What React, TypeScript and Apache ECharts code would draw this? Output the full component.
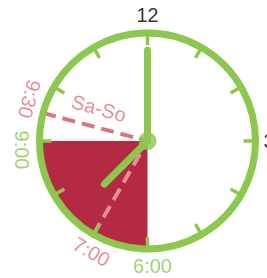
import React, { useEffect, useRef } from 'react';
import * as echarts from 'echarts';

// ---- data ----
const axisLabelHours = [0, 3];
const axisLabelTexts = ['12', '3'];
const faceLabelHours = [6, 9];
const faceLabelTexts = ['6:00', '9:00'];
const shadedRange = [6, 9];
const markerHours = [9.5, 7];
const markerTexts = ['9:30', '7:00'];
const periodText = 'Sa-So';
const minuteHandHour = 0;
const hourHandHour = 7.5;

// ---- styles ----
const GREEN = '#8bc84d';
const PINK = '#e0727f';
const PINK_ON_RED = '#e68d9a';
const RED = '#b42a43';
const DARK = '#333333';
const FONT = 'Liberation Sans, Arial, Helvetica, sans-serif';

export default function App() {
  const ref = useRef<HTMLDivElement>(null);
  useEffect(() => {
    const chart = echarts.init(ref.current!, null, { renderer: 'svg' });
    const tangent = (h: number) => 180 - h * 30;
    const labelItems = [
      { value: [1.153, faceLabelHours[0]], name: faceLabelTexts[0], label: { color: GREEN, rotate: tangent(faceLabelHours[0]), offset: [5, 0] } },
      { value: [1.162, faceLabelHours[1]], name: faceLabelTexts[1], label: { color: GREEN, rotate: tangent(faceLabelHours[1]), offset: [9, 0] } },
      { value: [1.156, markerHours[0]], name: markerTexts[0], label: { color: PINK, rotate: tangent(markerHours[0]), offset: [-10, 0] } },
      { value: [1.148, markerHours[1]], name: markerTexts[1], label: { color: PINK, rotate: tangent(markerHours[1]), offset: [7, 0] } },
      { value: [0.513, markerHours[0]], name: periodText, label: { color: PINK, rotate: tangent(markerHours[0]) + 90, offset: [0, -19] } },
    ];
    const markerColors = [PINK, PINK_ON_RED];
    const markerSeries = markerHours.map((h, i) => ({
      type: 'line',
      coordinateSystem: 'polar',
      data: [[1, h], [0, h]],
      symbol: 'none',
      clip: false,
      z: 3,
      lineStyle: { color: markerColors[i], width: 4, type: [13, 7] },
    }));
    const handSeries = [
      { hour: minuteHandHour, len: 0.84 },
      { hour: hourHandHour, len: 0.565 },
    ].map((hd) => ({
      type: 'line',
      coordinateSystem: 'polar',
      data: [[0, hd.hour], [hd.len, hd.hour]],
      symbol: 'none',
      clip: false,
      z: 4,
      lineStyle: { color: GREEN, width: 7, cap: 'round' },
    }));
    chart.setOption({
      animation: false,
      textStyle: { fontFamily: FONT },
      polar: { center: [147.5, 141], radius: 108 },
      angleAxis: {
        type: 'value',
        min: 0,
        max: 12,
        interval: 1,
        startAngle: 90,
        clockwise: true,
        z: 10,
        axisLine: { show: true, lineStyle: { color: GREEN, width: 7 } },
        axisTick: { show: true, inside: true, length: 12, lineStyle: { color: GREEN, width: 3.5 } },
        splitLine: { show: false },
        splitArea: { show: false },
        axisLabel: {
          show: true,
          margin: 8,
          color: DARK,
          fontSize: 20,
          fontFamily: FONT,
          formatter: (v: number) => {
            const i = axisLabelHours.indexOf(v);
            return i >= 0 ? axisLabelTexts[i] : '';
          },
        },
      },
      radiusAxis: { type: 'value', min: 0, max: 1, show: false },
      series: [
        {
          type: 'custom',
          coordinateSystem: 'polar',
          z: 1,
          data: [[shadedRange[0], shadedRange[1]]],
          renderItem: (params: any, api: any) => {
            const cs = params.coordSys;
            const toRad = (h: number) => (h / 12) * 2 * Math.PI - Math.PI / 2;
            return {
              type: 'sector',
              shape: {
                cx: cs.cx, cy: cs.cy, r: cs.r, r0: 0,
                startAngle: toRad(api.value(0)), endAngle: toRad(api.value(1)), clockwise: true,
              },
              style: { fill: RED },
            };
          },
        },
        ...markerSeries,
        ...handSeries,
        {
          type: 'scatter',
          coordinateSystem: 'polar',
          clip: false,
          z: 5,
          symbolSize: 18,
          itemStyle: { color: GREEN },
          data: [[0, 0]],
        },
        {
          type: 'scatter',
          coordinateSystem: 'polar',
          clip: false,
          z: 6,
          symbolSize: 1,
          itemStyle: { color: 'rgba(0,0,0,0)' },
          label: { show: true, position: 'inside', formatter: '{b}', fontSize: 20, fontFamily: FONT },
          emphasis: { disabled: true },
          data: labelItems,
        },
      ],
    } as any);
    return () => chart.dispose();
  }, []);
  return <div ref={ref} style={{ position: 'fixed', left: 0, top: 0, width: 267, height: 278 }} />;
}
